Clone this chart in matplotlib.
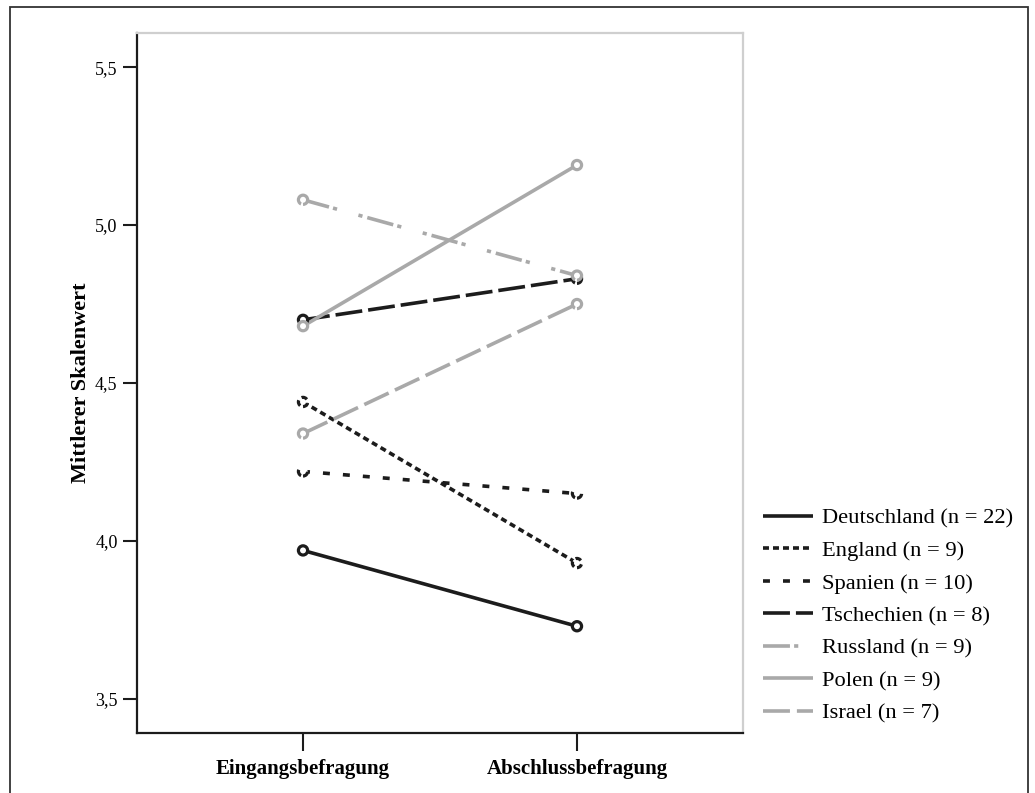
import matplotlib
matplotlib.use("Agg")
import matplotlib.pyplot as plt
from matplotlib.patches import Rectangle

plt.rcParams["font.family"] = ["Liberation Serif", "DejaVu Serif"]
plt.rcParams["lines.scale_dashes"] = False

# Survey time points
timepoints = ["Eingangsbefragung", "Abschlussbefragung"]

# Mean scale value per country group (entry, exit)
deutschland = [3.97, 3.73]
england = [4.44, 3.93]
spanien = [4.22, 4.15]
tschechien = [4.70, 4.83]
russland = [5.08, 4.84]
polen = [4.68, 5.19]
israel = [4.34, 4.75]

group_labels = [
    "Deutschland (n = 22)",
    "England (n = 9)",
    "Spanien (n = 10)",
    "Tschechien (n = 8)",
    "Russland (n = 9)",
    "Polen (n = 9)",
    "Israel (n = 7)",
]

y_ticks = [3.5, 4.0, 4.5, 5.0, 5.5]
y_tick_labels = ["3,5", "4,0", "4,5", "5,0", "5,5"]

BLACK = "#1c1c1c"
GRAY = "#a9a9a9"

series = [
    (deutschland, BLACK, (0, ())),
    (england, BLACK, (0, (4.3, 2.9))),
    (spanien, BLACK, (0, (5.0, 9.4))),
    (tschechien, BLACK, (0, (19.4, 4.3))),
    (russland, GRAY, (0, (19.4, 3.0, 3.0, 16.0, 3.0, 3.6))),
    (polen, GRAY, (0, ())),
    (israel, GRAY, (0, (19.4, 5.0))),
]

W, H = 1035, 793
fig = plt.figure(figsize=(W / 100, H / 100), dpi=100)
ax = fig.add_axes([137 / W, 1 - 733 / H, (743 - 137) / W, (733 - 33) / H])

x = list(range(len(timepoints)))
handles = []
for (vals, color, ls), label in zip(series, group_labels):
    (ln,) = ax.plot(x, vals, color=color, lw=2.6, linestyle=ls, label=label,
                    solid_capstyle="butt", dash_capstyle="butt", zorder=2)
    ax.scatter(x, vals, s=44, facecolors="white", edgecolors=color,
               linewidths=2.3, linestyles=[ls], zorder=3)
    handles.append(ln)

ax.set_xlim(-0.606, 1.606)
ax.set_ylim(3.392, 5.608)
ax.set_xticks(x)
ax.set_xticklabels(timepoints, fontsize=15, fontweight="bold")
ax.set_yticks(y_ticks)
ax.set_yticklabels(y_tick_labels, fontsize=13)
ax.tick_params(axis="y", length=10, width=1.5, pad=4, color=BLACK)
ax.tick_params(axis="x", length=13, width=1.5, pad=6, color=BLACK)
ax.set_ylabel("Mittlerer Skalenwert", fontsize=16, fontweight="bold", labelpad=3)

for side in ("left", "bottom"):
    ax.spines[side].set_color(BLACK)
    ax.spines[side].set_linewidth(1.6)
for side in ("top", "right"):
    ax.spines[side].set_color("#cfcfcf")
    ax.spines[side].set_linewidth(1.6)

fig.legend(handles=handles, labels=group_labels, loc="upper left",
           bbox_to_anchor=(763 / W, 1 - 508 / H), frameon=False,
           fontsize=16.2, handlelength=2.2, handletextpad=0.4,
           labelspacing=0.52, borderpad=0, borderaxespad=0)

# outer frame around the whole figure (open at the bottom edge)
fig.add_artist(Rectangle((10 / W, -0.05), (1028 - 10) / W, 1.05 - 7 / H,
                         transform=fig.transFigure, fill=False,
                         edgecolor="#333333", linewidth=1.3))

fig.savefig("out.png", dpi=100)
